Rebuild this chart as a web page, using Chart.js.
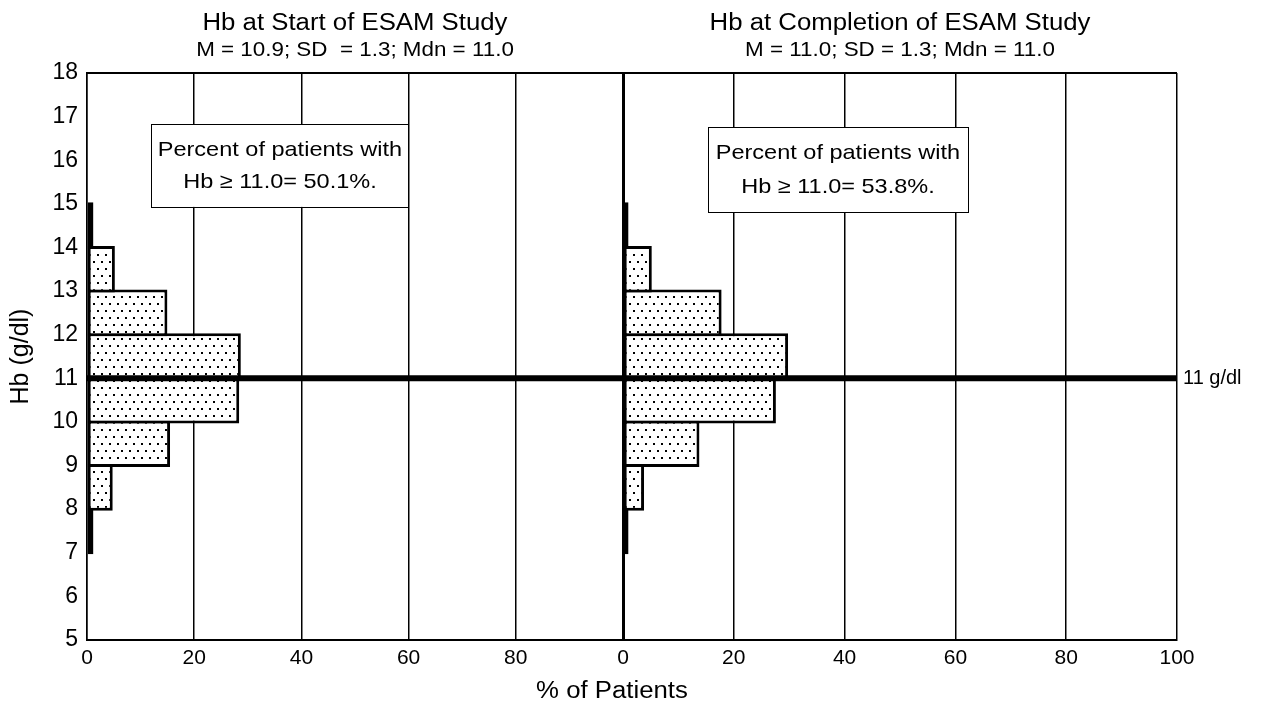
<!DOCTYPE html>
<html>
<head>
<meta charset="utf-8">
<script src="https://cdn.jsdelivr.net/npm/chart.js@4.4.1/dist/chart.umd.min.js"></script>
<style>
  body { margin: 0; background: #fff; }
  #wrap { position: relative; width: 1263px; height: 709px; }
  #wrap canvas { position: absolute; left: 0; top: 0; }
</style>
</head>
<body>
<div id="wrap">
  <canvas id="start-chart" width="1263" height="709"></canvas>
  <canvas id="end-chart" width="1263" height="709"></canvas>
</div>
<script>
// Hb bins (centre of each 1 g/dl class) and % of patients in each
var hbBins = [7.5, 8.5, 9.5, 10.5, 11.5, 12.5, 13.5, 14.5]
var startPct = [1.2, 4.8, 15.5, 28.4, 28.7, 15.0, 5.2, 1.2]
var endPct = [1.0, 3.8, 13.8, 27.6, 29.8, 17.8, 5.2, 1.0]
var hbRange = [5, 18]
var pctRange = [0, 100]
var refLine = 11
var refLabel = '11 g/dl'

var startTitle = ['Hb at Start of ESAM Study', 'M = 10.9; SD  = 1.3; Mdn = 11.0']
var endTitle = ['Hb at Completion of ESAM Study', 'M = 11.0; SD = 1.3; Mdn = 11.0']
var startNote = ['Percent of patients with', 'Hb \u2265 11.0= 50.1%.']
var endNote = ['Percent of patients with', 'Hb \u2265 11.0= 53.8%.']

var FONT = '"Liberation Sans", Arial, Helvetica, sans-serif'
Chart.defaults.font.family = FONT
Chart.defaults.color = '#000'

// dotted fill like the printed figure
var dots = document.createElement('canvas')
dots.width = 8
dots.height = 14
var dctx = dots.getContext('2d')
dctx.fillStyle = '#fff'
dctx.fillRect(0, 0, 8, 14)
dctx.fillStyle = '#000'
dctx.fillRect(1, 2, 2, 2)
dctx.fillRect(5, 9, 2, 2)
var dotPattern = dctx.createPattern(dots, 'repeat')

// figure text is a bit wider than a plain Arial face
var stretchText = function(ctx, text, x, y, size, sx) {
  ctx.save()
  ctx.font = size + 'px ' + FONT
  ctx.textAlign = 'center'
  ctx.textBaseline = 'alphabetic'
  ctx.fillStyle = '#000'
  ctx.translate(x, y)
  ctx.scale(sx || 1.12, 1)
  ctx.fillText(text, 0, 0)
  ctx.restore()
}

var panelPlugin = {
  id: 'panel',
  afterDatasetsDraw: function(chart, args, opts) {
    var ctx = chart.ctx
    var xs = chart.scales.x, ys = chart.scales.y
    var b = opts.box
    var x0 = xs.getPixelForValue(b[0]), x1 = xs.getPixelForValue(b[1])
    var y0 = ys.getPixelForValue(b[2]), y1 = ys.getPixelForValue(b[3])
    ctx.save()
    ctx.fillStyle = '#fff'
    ctx.fillRect(x0, y0, x1 - x0, y1 - y0)
    ctx.strokeStyle = '#000'
    ctx.lineWidth = 1
    ctx.strokeRect(Math.round(x0) + 0.5, Math.round(y0) + 0.5, Math.round(x1 - x0), Math.round(y1 - y0))
    ctx.restore()
    var cx = (x0 + x1) / 2, h = y1 - y0
    stretchText(ctx, opts.note[0], cx, y0 + h * 0.38, 21)
    stretchText(ctx, opts.note[1], cx, y0 + h * 0.77, 21)
  },
  afterDraw: function(chart, args, opts) {
    var ctx = chart.ctx
    var area = chart.chartArea
    ctx.save()
    ctx.strokeStyle = '#000'
    ctx.lineWidth = 2
    ctx.beginPath()
    ctx.moveTo(area.left, area.top)
    ctx.lineTo(area.right, area.top)
    ctx.stroke()
    ctx.restore()
    var cx = (area.left + area.right) / 2
    stretchText(ctx, opts.title[0], cx, 30, 23)
    stretchText(ctx, opts.title[1], cx, 56, 20)
    if (opts.xTitle) {
      stretchText(ctx, opts.xTitle, area.left - 11, 698, 23)
    }
  }
}

var makePanel = function(id, pcts, side, title, note, box) {
  var isLeft = side === 'left'
  var scales = {
    x: {
      type: 'linear', min: pctRange[0], max: pctRange[1],
      ticks: {
        stepSize: 20, padding: 6, font: { size: 21 },
        callback: function(v) { return (isLeft && v === 100) ? '' : v }
      },
      grid: {
        drawTicks: false, lineWidth: 1.5,
        color: function(c) {
          if (!c.tick) return '#000'
          if (isLeft && c.tick.value === 100) return 'rgba(0,0,0,0)'
          if (!isLeft && c.tick.value === 0) return 'rgba(0,0,0,0)'
          return '#000'
        }
      },
      border: { color: '#000', width: 2 },
      afterFit: function(s) { s.height = 69 }
    },
    y: {
      type: 'linear', offset: false, min: hbRange[0], max: hbRange[1],
      ticks: { stepSize: 1, padding: 9, font: { size: 23 }, display: isLeft },
      grid: { display: false, drawTicks: false },
      border: { color: '#000', width: isLeft ? 1.5 : 3 },
      title: { display: isLeft, text: 'Hb (g/dl)', font: { size: 25 }, padding: { top: 6, bottom: 0 } },
      afterFit: function(s) { s.width = isLeft ? 87 : 623 }
    }
  }
  if (!isLeft) {
    scales.y2 = {
      type: 'linear', position: 'right', offset: false, min: hbRange[0], max: hbRange[1],
      afterBuildTicks: function(s) { s.ticks = [{ value: refLine }] },
      ticks: { padding: 6, font: { size: 20 }, callback: function() { return refLabel } },
      grid: { display: false, drawTicks: false },
      border: { display: false },
      afterFit: function(s) { s.width = 86 }
    }
  }

  return new Chart(document.getElementById(id), {
    type: 'bar',
    data: {
      datasets: [{
        type: 'line',
        data: [{ x: pctRange[0], y: refLine }, { x: pctRange[1], y: refLine }],
        borderColor: '#000',
        borderWidth: 6,
        pointRadius: 0,
        order: 0
      }, {
        type: 'bar',
        data: hbBins.map(function(hb, i) { return { x: pcts[i], y: hb } }),
        backgroundColor: dotPattern,
        borderColor: '#000',
        borderWidth: 3,
        borderSkipped: false,
        barPercentage: 1.07,
        categoryPercentage: 1,
        order: 1
      }]
    },
    options: {
      indexAxis: 'y',
      responsive: false,
      animation: false,
      events: [],
      layout: { padding: isLeft ? { top: 73, right: 640 } : { top: 73 } },
      scales: scales,
      plugins: {
        legend: { display: false },
        tooltip: { enabled: false },
        panel: { title: title, note: note, box: box, xTitle: isLeft ? null : '% of Patients' }
      }
    },
    plugins: [panelPlugin]
  })
}

makePanel('start-chart', startPct, 'left', startTitle, startNote, [12, 60, 16.83, 14.93])
makePanel('end-chart', endPct, 'right', endTitle, endNote, [15.3, 62.3, 16.76, 14.81])
</script>
</body>
</html>
